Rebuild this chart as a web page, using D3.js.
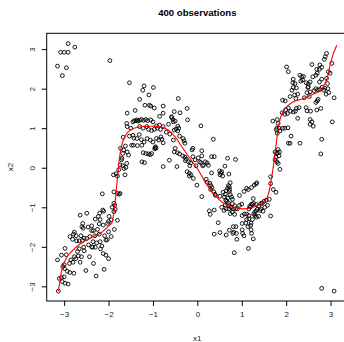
<!DOCTYPE html>
<html>
<head>
<meta charset="utf-8">
<script src="https://cdn.jsdelivr.net/npm/d3@7"></script>
<style>
  body { margin: 0; background: #fff; }
  text { font-family: "Liberation Sans", Arial, Helvetica, sans-serif; }
</style>
</head>
<body>
<div id="chart"></div>
<script>
const title = '400 observations';
const xLabel = 'x1';
const yLabel = 'x2';
const xTicks = [-3, -2, -1, 0, 1, 2, 3];
const yTicks = [-3, -2, -1, 0, 1, 2, 3];

// red fitted curve
const curveX = [-3.13, -3.10, -3.07, -3.03, -2.97, -2.90, -2.75, -2.57, -2.34, -2.15, -2.05, -1.98, -1.93, -1.88, -1.85, -1.82, -1.79, -1.76, -1.72, -1.66, -1.58, -1.48, -1.37, -1.07, -0.84, -0.65, -0.50, -0.35, -0.17, 0.00, 0.17, 0.36, 0.59, 0.81, 1.04, 1.26, 1.45, 1.56, 1.61, 1.65, 1.70, 1.74, 1.77, 1.80, 1.83, 1.87, 1.92, 1.98, 2.13, 2.39, 2.61, 2.76, 2.85, 2.92, 2.99, 3.06, 3.14];
const curveY = [-3.12, -2.90, -2.68, -2.50, -2.33, -2.20, -2.03, -1.88, -1.74, -1.63, -1.53, -1.45, -1.40, -1.12, -0.85, -0.50, -0.15, 0.20, 0.48, 0.72, 0.88, 0.97, 1.02, 1.05, 1.04, 0.95, 0.78, 0.53, 0.24, -0.02, -0.35, -0.65, -0.90, -1.00, -1.04, -1.00, -0.90, -0.78, -0.62, -0.40, -0.05, 0.25, 0.55, 0.82, 1.05, 1.25, 1.40, 1.50, 1.65, 1.75, 1.86, 1.94, 2.08, 2.25, 2.60, 2.88, 3.10];

// observations [x1, x2] grouped by part of the plot
const obsOutliers = [[-3.15,2.57],[-3.08,2.92],[-3.00,2.92],[-2.91,2.92],[-2.91,3.14],[-3.04,2.33],[-2.95,2.53],[-2.76,3.05],[-1.97,2.71],[2.80,-3.05],[3.08,-3.12]];

const obsLeft = [[-3.13,-3.12],[-3.11,-2.80],[-3.06,-2.78],[-3.00,-2.76],[-3.04,-2.88],[-2.98,-2.92],[-2.91,-2.94],
  [-2.87,-2.65],[-2.78,-2.67],[-3.03,-2.50],[-3.00,-2.45],[-2.99,-2.55],[-2.88,-2.42],[-2.85,-2.33],
  [-3.15,-2.33],[-3.06,-2.21],[-2.98,-2.04],[-2.77,-2.25],[-2.68,-2.23],[-2.70,-2.12],[-2.61,-2.25],[-2.64,-2.39],
  [-2.51,-2.60],[-2.43,-2.25],[-2.38,-2.00],[-2.34,-2.42],[-2.28,-2.74],[-2.56,-2.01],[-2.55,-2.10],
  [-2.12,-2.17],[-2.06,-2.21],[-2.00,-2.30],[-2.10,-2.57],[-2.15,-1.98],[-2.06,-1.83],[-2.03,-1.82],[-1.94,-1.74],
  [-2.09,-1.72],[-2.19,-1.87],[-2.30,-2.01],[-2.36,-2.01],[-2.35,-1.87],[-2.49,-1.79],[-2.42,-1.74],[-2.31,-1.72],
  [-2.21,-1.68],[-2.34,-1.59],[-2.25,-1.56],[-2.21,-1.42],[-2.19,-1.31],[-2.13,-1.07],[-2.20,-1.15],[-2.23,-1.23],
  [-2.11,-1.10],[-2.00,-1.36],[-1.99,-1.23],[-1.94,-1.32],[-2.02,-1.41],[-2.87,-1.74],[-2.79,-1.68],[-2.81,-1.81],
  [-2.73,-1.72],[-2.72,-1.85],[-2.77,-1.63],[-2.66,-1.85],[-2.62,-1.72],[-2.59,-1.84],[-2.55,-1.78],[-2.64,-1.20],
  [-2.49,-1.15],[-2.58,-1.41],[-2.60,-1.49],[-2.38,-1.47],[-2.38,-1.59],[-2.57,-1.53],[-2.14,-0.66],[-2.80,-2.39],
  [-2.74,-2.30],[-2.93,-2.62],[-2.45,-1.95],[-2.27,-1.90],[-2.18,-2.05],[-2.46,-1.50],[-2.30,-1.30],[-2.00,-1.62],
  [-2.95,-2.20],[-2.66,-2.05],[-2.12,-1.45]];

const obsRiseLeft = [[-1.88,-1.11],[-1.88,-0.90],[-1.80,-0.65],[-1.88,-0.61],[-1.74,-0.65],[-1.89,-0.18],[-1.83,-0.15],
  [-1.77,-0.05],[-1.74,0.07],[-1.68,0.05],[-1.61,0.01],[-1.63,-0.18],[-1.80,-0.21],[-1.85,-1.05],[-1.92,-1.00],
  [-1.80,-1.33],[-1.87,-1.56],[-1.76,-0.67],[-1.58,0.40],[-1.55,0.32],[-1.68,0.36],[-1.70,0.24],[-1.59,0.11],
  [-1.65,-0.02],[-1.73,0.49],[-1.66,0.45],[-1.62,0.55],[-1.71,0.20],[-1.86,-0.95]];

const obsPeak = [[-1.53,2.15],[-1.58,1.38],[-1.59,1.12],[-1.58,1.04],[-1.67,0.77],[-1.53,0.80],[-1.45,1.16],[-1.38,1.19],
  [-1.30,1.73],[-1.48,0.57],[-1.20,2.07],[-1.23,1.96],[-0.99,2.03],[-1.09,1.84],[-1.18,1.58],[-1.08,1.58],[-1.05,1.56],
  [-0.97,1.51],[-0.77,1.56],[-0.43,1.75],[-0.77,1.38],[-0.52,1.42],[-0.39,1.39],[-0.23,1.50],[-0.58,1.27],[-0.55,1.22],
  [-0.54,1.16],[-0.50,1.18],[-0.44,1.05],[-0.48,0.98],[-0.42,1.00],[-0.52,0.95],[-0.44,0.93],[-0.22,1.21],[0.08,1.06],
  [0.36,0.72],[-1.42,1.19],[-1.36,1.21],[-1.34,1.18],[-1.30,1.20],[-1.26,1.22],[-1.21,1.20],[-1.16,1.22],[-1.12,1.19],
  [-1.05,1.21],[-1.00,1.16],[-1.30,1.04],[-1.22,1.00],[-1.14,1.04],[-1.10,0.97],[-1.03,0.94],[-0.97,0.97],[-0.90,1.00],
  [-0.83,0.97],[-0.92,1.06],[-0.85,1.08],[-0.77,1.04],[-0.65,1.10],[-0.58,1.29],[-1.45,0.82],[-1.43,0.75],[-1.36,0.74],
  [-1.31,0.84],[-1.26,0.71],[-1.20,0.65],[-1.13,0.74],[-1.06,0.70],[-1.00,0.65],[-0.92,0.74],[-0.87,0.70],[-0.82,0.78],
  [-0.80,0.72],[-1.44,0.57],[-1.35,0.56],[-1.25,0.57],[-0.95,0.51],[-0.94,0.53],[-0.93,0.49],[-0.96,0.48],[-0.77,0.63],
  [-0.54,0.70],[-0.50,0.49],[-0.52,0.40],[-0.32,0.74],[-0.30,0.68],[-0.28,0.62],[-0.10,0.49],[-0.12,0.45],[0.10,0.43],
  [0.32,0.28],[0.38,0.28],[-1.22,0.38],[-1.16,0.36],[-1.10,0.35],[-1.06,0.33],[-1.03,0.36],[-1.25,0.15],[-0.77,0.03],
  [-0.63,0.19],[-0.46,0.03],[-1.19,0.13],[-1.40,1.45],[-0.85,1.30],[-0.70,0.90],[-0.62,0.85],[-1.50,1.00],[-0.40,0.80]];

const obsFall = [[-0.45,0.38],[-0.40,0.35],[-0.33,0.30],[-0.28,0.27],[-0.27,0.18],[-0.25,0.22],[-0.20,0.15],[-0.15,0.12],
  [-0.17,0.05],[-0.10,0.28],[-0.05,0.20],[0.02,0.25],[0.05,0.15],[0.10,0.30],[-0.03,0.05],[0.12,0.05],[-0.23,-0.10],
  [-0.18,-0.14],[-0.18,-0.21],[-0.14,-0.18],[-0.09,-0.27],[-0.01,-0.44],[0.08,0.13],[0.14,0.07],[0.18,0.15],[0.22,0.12],
  [0.25,0.06],[0.32,-0.13],[0.50,-0.08],[0.51,-0.18],[0.10,-0.73],[0.20,-0.29],[0.22,-0.37],[0.28,-0.39],[0.30,-0.45],
  [0.30,-0.55],[0.33,-0.50],[0.37,-0.61],[0.40,-0.67],[0.41,-0.70],[0.51,-0.72],[0.58,-0.62],[0.63,-0.67],[0.65,-0.58],
  [0.68,-0.52],[0.70,-0.45],[0.27,-1.09],[0.29,-1.18],[0.38,-1.07],[0.47,-1.39],[0.38,-1.68],[0.51,-1.64],[0.65,-1.70],
  [0.72,-1.58],[0.63,-0.94],[0.66,-0.85],[0.70,-0.89],[0.62,0.04],[0.71,-0.16],[0.55,-0.10],[0.57,-0.21],[0.68,0.24],
  [0.86,0.21],[0.53,-0.14],[0.74,-0.38],[0.72,-0.48],[0.73,-0.55],[0.72,-0.60],[0.74,-0.68],[0.61,-0.74],[0.64,-0.82],
  [0.68,-0.77],[0.77,-0.74],[0.79,-0.80]];

const obsTrough = [[1.11,-0.52],[1.15,-0.55],[1.22,-0.50],[1.28,-0.44],[1.32,-0.41],[1.34,-0.38],[1.26,-0.78],[1.27,-0.90],
  [1.24,-0.93],[1.22,-0.92],[1.20,-0.99],[1.16,-1.04],[1.18,-0.97],[1.33,-0.93],[1.38,-0.97],[1.35,-1.05],[1.32,-1.09],
  [1.29,-1.13],[1.27,-1.17],[1.30,-1.21],[1.33,-1.25],[1.38,-1.23],[1.41,-1.08],[1.43,-1.04],[1.43,-0.90],[1.46,-0.90],
  [1.50,-0.85],[1.55,-0.82],[1.58,-0.95],[1.62,-0.80],[1.48,-1.10],[1.52,-1.00],[0.55,-1.00],[0.60,-1.08],[0.65,-1.04],
  [0.71,-1.04],[0.76,-1.00],[0.81,-1.04],[0.86,-1.04],[0.90,-1.04],[0.79,-1.12],[0.74,-1.16],[0.84,-1.18],[0.71,-0.96],
  [0.79,-0.91],[0.84,-0.96],[0.95,-0.95],[1.00,-0.92],[1.01,-1.21],[1.06,-1.17],[1.11,-1.17],[1.16,-1.21],[1.01,-1.41],
  [1.09,-1.40],[1.11,-1.31],[1.16,-1.29],[1.14,-1.49],[1.20,-1.46],[1.21,-1.40],[1.24,-1.31],[1.01,-1.57],[1.02,-1.66],
  [1.05,-1.72],[1.21,-1.57],[1.22,-1.66],[1.26,-1.80],[0.87,-1.49],[0.88,-1.66],[0.82,-1.63],[0.81,-1.49],[0.80,-1.66],
  [0.89,-1.81],[1.65,-1.22],[0.83,-2.15],[1.15,-2.04],[1.05,-0.60],[0.95,-0.70]];

const obsRiseRight = [[1.75,0.40],[1.78,0.36],[1.77,0.27],[1.75,0.20],[1.80,0.38],[1.84,0.30],[1.85,0.40],[1.79,0.15],
  [1.82,0.11],[1.86,-0.04],[1.65,-0.23],[1.71,-0.55],[1.77,-0.62],[1.65,-0.40],[1.70,1.18],[1.80,1.22],[1.82,1.12],
  [1.79,1.00],[1.78,0.96],[1.84,1.00],[1.86,0.93],[1.92,1.00],[1.97,1.00],[2.04,1.01],[1.80,0.87],[1.82,0.46]];

const obsRight = [[2.01,2.55],[2.05,2.43],[2.31,2.34],[2.35,2.30],[2.39,2.31],[2.37,2.22],[2.33,2.19],[2.16,2.24],[2.15,2.15],
  [2.20,2.13],[2.16,2.03],[2.23,2.02],[2.26,1.86],[2.19,1.84],[2.22,1.75],[2.45,2.15],[2.50,2.12],[2.49,2.03],[2.47,1.90],
  [2.13,1.96],[2.09,1.80],[2.54,1.92],[2.63,1.95],[2.67,2.00],[2.72,1.97],[2.76,1.98],[2.81,2.04],[2.85,1.96],[2.87,2.01],
  [2.94,2.00],[2.90,1.86],[2.96,1.90],[3.08,1.77],[2.72,1.73],[2.70,1.69],[2.67,1.65],[2.45,1.52],[2.47,1.44],[2.52,1.80],
  [2.41,1.77],[1.92,1.71],[1.98,1.69],[2.23,1.50],[2.29,1.52],[2.21,1.43],[2.16,1.41],[2.10,1.43],[2.05,1.51],[1.99,1.47],
  [1.91,1.39],[1.97,1.35],[2.03,1.37],[2.55,1.43],[2.69,1.46],[2.78,1.50],[2.26,1.25],[2.54,1.22],[2.58,1.16],[2.54,1.10],
  [2.61,1.05],[3.04,1.16],[2.11,0.80],[2.05,0.62],[2.09,0.62],[2.31,0.62],[2.80,0.72],[2.78,0.35],[2.91,2.89],[2.88,2.81],
  [2.86,2.74],[3.03,2.64],[2.76,2.60],[2.80,2.54],[2.75,2.49],[2.58,2.61],[2.69,2.49],[2.70,2.39],[2.67,2.34],[2.95,2.43],
  [2.99,2.39],[2.91,2.26],[2.93,2.13],[2.80,2.24],[2.75,2.17],[2.60,2.30],[2.54,2.17],[2.50,2.05]];

const observations = [].concat(obsOutliers, obsLeft, obsRiseLeft, obsPeak, obsFall, obsTrough, obsRiseRight, obsRight);

const width = 344, height = 342;
const plot = { left: 46.7, right: 348, top: 33.3, bottom: 301 };

const svg = d3.select('#chart')
  .append('svg')
  .attr('width', width)
  .attr('height', height);

const x = d3.scaleLinear().domain([-3.393, 3.393]).range([plot.left, plot.right]);
const y = d3.scaleLinear().domain([-3.37, 3.40]).range([plot.bottom, plot.top]);

// points
svg.append('g')
  .selectAll('circle')
  .data(observations)
  .enter()
  .append('circle')
  .attr('cx', d => x(d[0]))
  .attr('cy', d => y(d[1]))
  .attr('r', 1.9)
  .attr('fill', 'none')
  .attr('stroke', '#000')
  .attr('stroke-width', 0.9);

// fitted curve
const line = d3.line()
  .x((d, i) => x(curveX[i]))
  .y((d, i) => y(curveY[i]))
  .curve(d3.curveCatmullRom);

svg.append('path')
  .datum(curveX)
  .attr('d', line)
  .attr('fill', 'none')
  .attr('stroke', '#ff0000')
  .attr('stroke-width', 1.1);

// box
svg.append('rect')
  .attr('x', plot.left)
  .attr('y', plot.top)
  .attr('width', plot.right - plot.left)
  .attr('height', plot.bottom - plot.top)
  .attr('fill', 'none')
  .attr('stroke', '#000')
  .attr('stroke-width', 1);

const fmt = d3.format('d');

// x axis
const gx = svg.append('g')
  .attr('transform', `translate(0, ${plot.bottom})`)
  .call(d3.axisBottom(x).tickValues(xTicks).tickFormat(fmt).tickSize(5).tickSizeOuter(0));
gx.select('.domain').remove();
gx.selectAll('text')
  .attr('y', 13)
  .attr('dy', '0.32em')
  .style('font-size', '8px')
  .style('font-family', '"Liberation Sans", Arial, sans-serif')
  .attr('fill', '#222');

// y axis, labels parallel to the axis like base R
const gy = svg.append('g')
  .attr('transform', `translate(${plot.left}, 0)`)
  .call(d3.axisLeft(y).tickValues(yTicks).tickFormat(fmt).tickSize(5).tickSizeOuter(0));
gy.select('.domain').remove();
gy.selectAll('text')
  .attr('x', 0)
  .attr('dy', 0)
  .attr('text-anchor', 'middle')
  .attr('transform', 'translate(-12,0) rotate(-90)')
  .style('font-size', '8px')
  .style('font-family', '"Liberation Sans", Arial, sans-serif')
  .attr('fill', '#222');

// title and axis labels
svg.append('text')
  .attr('x', (plot.left + plot.right) / 2)
  .attr('y', 16)
  .attr('text-anchor', 'middle')
  .style('font-size', '9.6px')
  .style('font-weight', 'bold')
  .text(title);

svg.append('text')
  .attr('x', (plot.left + plot.right) / 2)
  .attr('y', 341)
  .attr('text-anchor', 'middle')
  .style('font-size', '8px')
  .attr('fill', '#222')
  .text(xLabel);

svg.append('text')
  .attr('transform', `translate(13, ${(plot.top + plot.bottom) / 2}) rotate(-90)`)
  .attr('text-anchor', 'middle')
  .style('font-size', '8px')
  .attr('fill', '#222')
  .text(yLabel);
</script>
</body>
</html>
